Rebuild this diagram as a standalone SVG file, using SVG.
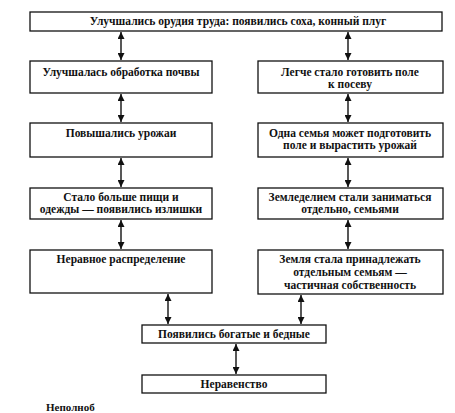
<svg xmlns="http://www.w3.org/2000/svg" width="455" height="413" viewBox="0 0 455 413">
<defs>
<style>
.box{fill:#fff;stroke:#111;stroke-width:1.3}
.t{font-family:"Liberation Serif","DejaVu Serif",serif;font-weight:bold;font-size:11.5px;fill:#111;text-anchor:middle}
.c{stroke:#111;stroke-width:1.4;fill:none;marker-start:url(#a);marker-end:url(#a)}
</style>
<marker id="a" viewBox="0 0 10 10" refX="10" refY="5" markerWidth="7" markerHeight="7" markerUnits="userSpaceOnUse" orient="auto-start-reverse">
<path d="M0,0 L10,5 L0,10 z" fill="#111"/>
</marker>
</defs>
<rect width="455" height="413" fill="#fff"/>
<g id="connectors">
<line class="c" x1="121" y1="32" x2="121" y2="60"/>
<line class="c" x1="348" y1="32" x2="348" y2="60"/>
<line class="c" x1="121" y1="94" x2="121" y2="122"/>
<line class="c" x1="348" y1="94" x2="348" y2="122"/>
<line class="c" x1="121" y1="158" x2="121" y2="187"/>
<line class="c" x1="348" y1="158" x2="348" y2="187"/>
<line class="c" x1="121" y1="220" x2="121" y2="249"/>
<line class="c" x1="348" y1="220" x2="348" y2="249"/>
<line class="c" x1="168" y1="294" x2="168" y2="324"/>
<line class="c" x1="301" y1="295" x2="301" y2="324"/>
<line class="c" x1="236" y1="344" x2="236" y2="374"/>
</g>
<g id="n-top">
<rect class="box" x="30" y="12" width="412" height="19"/>
<text class="t" x="238" y="25">Улучшались орудия труда: появились соха, конный плуг</text>
</g>
<g id="n-l1">
<rect class="box" x="30" y="61" width="182" height="32"/>
<text class="t" x="121" y="76">Улучшалась обработка почвы</text>
</g>
<g id="n-r1">
<rect class="box" x="258" y="61" width="185" height="32"/>
<text class="t" x="350" y="76">Легче стало готовить поле</text>
<text class="t" x="350" y="88">к посеву</text>
</g>
<g id="n-l2">
<rect class="box" x="30" y="123" width="182" height="34"/>
<text class="t" x="121" y="137">Повышались урожаи</text>
</g>
<g id="n-r2">
<rect class="box" x="258" y="123" width="185" height="34"/>
<text class="t" x="350" y="137">Одна семья может подготовить</text>
<text class="t" x="350" y="149">поле и вырастить урожай</text>
</g>
<g id="n-l3">
<rect class="box" x="30" y="188" width="182" height="31"/>
<text class="t" x="121" y="201">Стало больше пищи и</text>
<text class="t" x="121" y="213">одежды — появились излишки</text>
</g>
<g id="n-r3">
<rect class="box" x="258" y="188" width="185" height="31"/>
<text class="t" x="350" y="201">Земледелием стали заниматься</text>
<text class="t" x="350" y="213">отдельно, семьями</text>
</g>
<g id="n-l4">
<rect class="box" x="30" y="250" width="182" height="43"/>
<text class="t" x="121" y="263">Неравное распределение</text>
</g>
<g id="n-r4">
<rect class="box" x="258" y="250" width="185" height="44"/>
<text class="t" x="350" y="263">Земля стала принадлежать</text>
<text class="t" x="350" y="276">отдельным семьям —</text>
<text class="t" x="350" y="289">частичная собственность</text>
</g>
<g id="n-rich">
<rect class="box" x="142" y="325" width="184" height="18"/>
<text class="t" x="234" y="338">Появились богатые и бедные</text>
</g>
<g id="n-ineq">
<rect class="box" x="142" y="375" width="184" height="18"/>
<text class="t" x="234" y="388">Неравенство</text>
</g>
<text class="t" x="46" y="411" style="text-anchor:start;font-size:11px">Неполноб</text>
</svg>
